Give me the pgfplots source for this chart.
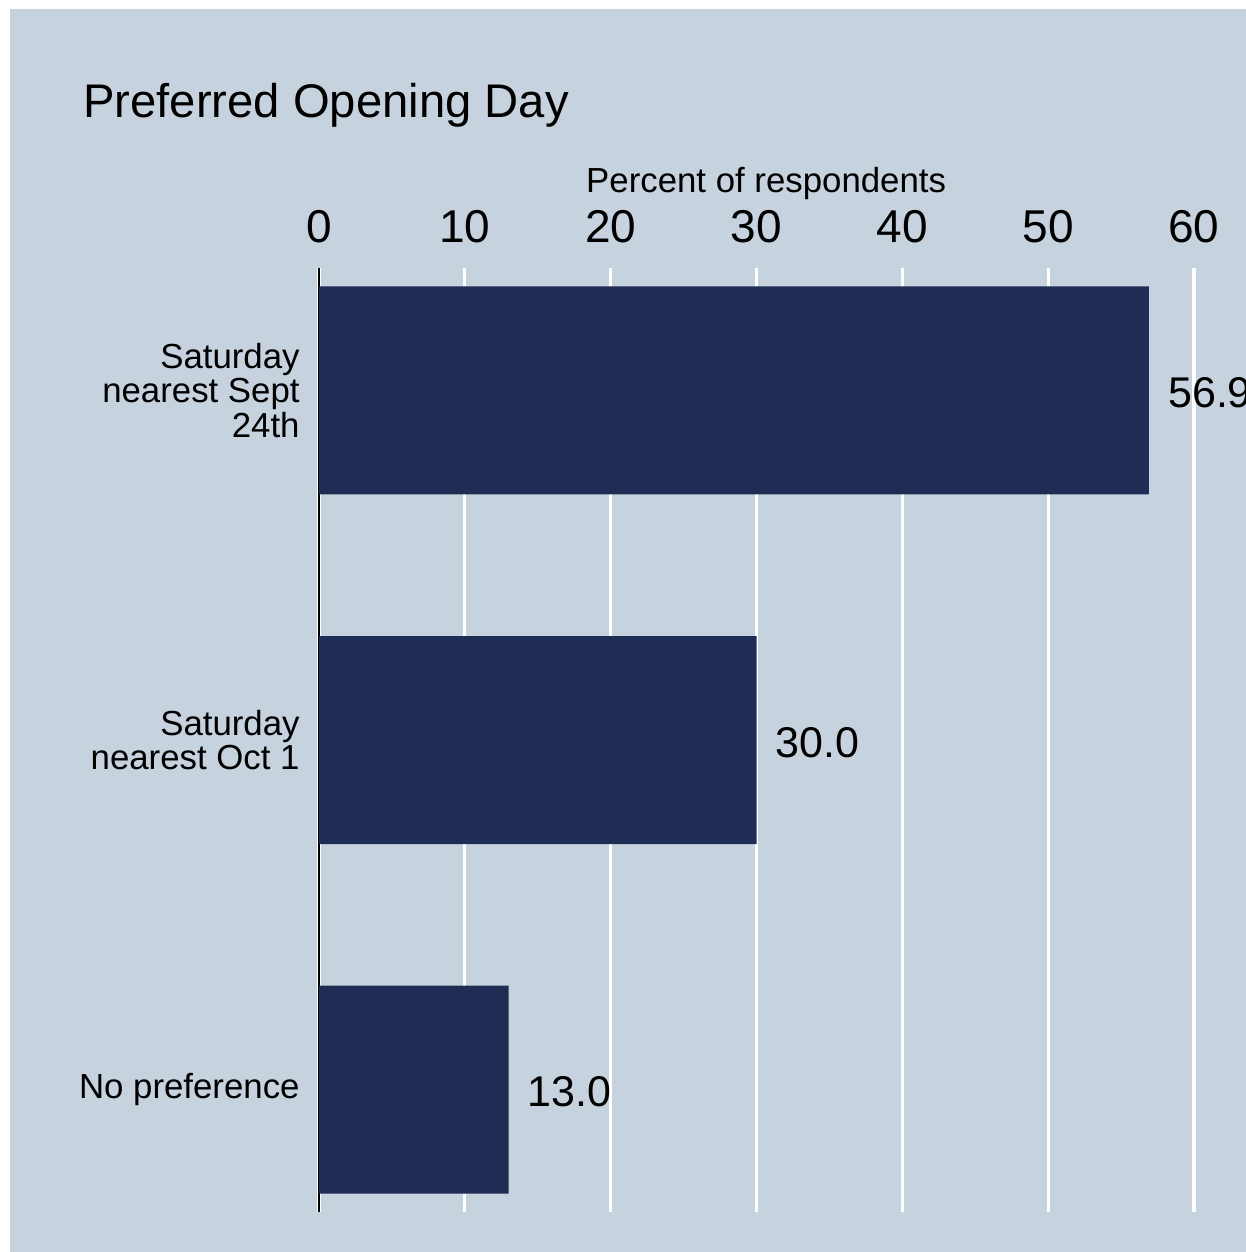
\documentclass[border=0pt]{standalone}
\usepackage{pgfplots}
\pgfplotsset{compat=1.18}
\usepackage{fontspec}
\setmainfont{Liberation Sans}
\definecolor{bgblue}{RGB}{198,210,222}
\definecolor{barnavy}{RGB}{31,45,84}
\begin{document}
\begin{tikzpicture}
% page and plot background
\path[use as bounding box, fill=white] (0,0) rectangle (623pt,-626pt);
\fill[bgblue] (5pt,-4.5pt) rectangle (623pt,-626pt);
\node[anchor=base west, inner sep=0pt, font=\fontsize{23.6}{27}\selectfont] at (41.5pt,-59pt) {Preferred Opening Day};
\begin{axis}[
    at={(159.5pt,-606pt)}, anchor=south west,
    scale only axis, width=437.5pt, height=472pt,
    xbar, bar width=104pt,
    xmin=0, xmax=60, ymin=-0.35, ymax=2.35, y dir=reverse,
    axis x line*=top, axis y line*=left,
    x axis line style={draw=none},
    y axis line style={black, line width=1pt},
    xtick={0,10,...,60}, ytick={0,1,2},
    yticklabels={{Saturday\\nearest Sept\\24th},{Saturday\\nearest Oct 1},{No preference}},
    major tick length=0pt,
    xmajorgrids, grid style={white, line width=1.6pt},
    /pgf/number format/assume math mode=true,
    xticklabel style={font=\fontsize{23}{27}\selectfont, inner sep=0pt, yshift=12.5pt},
    yticklabel style={align=right, font=\fontsize{17.4}{17.2}\selectfont, inner sep=0pt, xshift=-9.5pt},
    xlabel={Percent of respondents},
    xlabel style={at={(axis description cs:0.511,1)}, anchor=base, inner sep=0pt, yshift=38pt, font=\fontsize{17.4}{20}\selectfont},
    clip=false,
    point meta=x,
    nodes near coords={\pgfmathprintnumber[fixed,fixed zerofill,precision=1]{\pgfplotspointmeta}},
    every node near coord/.append style={anchor=west, inner sep=0pt, xshift=9.5pt, yshift=-1.2pt, text=black, font=\fontsize{21.5}{25}\selectfont},
  ]
  \addplot[fill=barnavy, draw=none] coordinates {(56.9,0) (30.0,1) (13.0,2)};
\end{axis}
\end{tikzpicture}
\end{document}
